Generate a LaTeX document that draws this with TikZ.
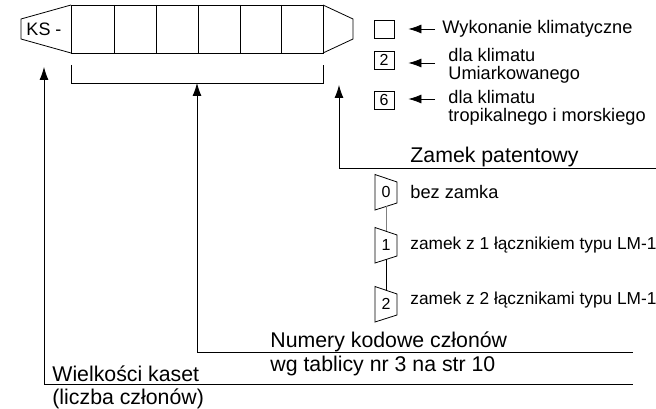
\documentclass[tikz,border=0pt]{standalone}
\usepackage{fontspec}
\setmainfont{Liberation Sans}
\usetikzlibrary{calc,arrows.meta}

\begin{document}
\begin{tikzpicture}[x=1pt,y=-1pt,line width=.8pt,
    big/.style={font=\fontsize{21.3}{21}\selectfont,inner sep=0pt,anchor=west},
    small/.style={font=\fontsize{18.2}{18.5}\selectfont,inner sep=0pt,anchor=west,align=left},
    tiny/.style={font=\fontsize{17.3}{18}\selectfont,inner sep=0pt,anchor=west},
    kod/.style={draw,minimum width=20pt,minimum height=18pt,inner sep=0pt,font=\fontsize{16}{16}\selectfont},
    strzalka/.style={-{Latex[length=13pt,width=9pt]}}]
    \useasboundingbox (0,0) rectangle (656,409);
    % kaseta
    \draw(71,5)--(21,19)--(21,39)--(71,53);
    \draw(71,5)rectangle(323,53);
    \foreach \x in {114,156,198,240,281}
      \draw(\x,5)--(\x,53);
    \draw(323,5)--(353,19)--(353,39)--(323,53);
    \node[font=\fontsize{18}{18}\selectfont,inner sep=0pt](ks)at(44,29){KS -};
    % klamra
    \coordinate(K)at(197,83);
    \draw(71,65)--(71,83)--(323,83)--(323,65);
    % wykonanie klimatyczne
    \node[kod](w0)at(384,29){};
    \node[kod](w2)at(384,60){2};
    \node[kod](w6)at(384,100){6};
    \node[small](t0)at(442,29){Wykonanie klimatyczne};
    \node[small](t2)at(448,66){dla klimatu\\Umiarkowanego};
    \node[small](t6)at(448,108){dla klimatu\\tropikalnego i morskiego};
    \coordinate(a0)at(435,29);
    \coordinate(a2)at(435,63);
    \coordinate(a6)at(435,99);
    \draw[strzalka](a0)--([xshift=14pt]w0.east);
    \draw[strzalka](a2)--([xshift=14pt]w2.east|-a2);
    \draw[strzalka](a6)--([xshift=14pt]w6.east|-a6);
    % zamek patentowy
    \coordinate(Z)at(339,85);
    \coordinate(Z0)at(339,168);
    \draw(Z0)--(656,168);
    \draw[strzalka](Z0)--(Z);
    \node[big,anchor=base west](zp)at(410,163){Zamek patentowy};
    \foreach \y/\d in {192/0,245/1,304/2}{
      \draw(375,\y-17.5)--(397,\y-10)--(397,\y+11)--(375,\y+18)--cycle;
      \node[font=\fontsize{16}{16}\selectfont,inner sep=0pt](z\d)at(386,\y){\d};
      \coordinate(g\d)at(386,\y-14);
      \coordinate(d\d)at(386,\y+14);
    }
    \draw[gray](d0)--(g1);
    \draw(d1)--(g2);
    \node[small](b0)at(410,192){bez zamka};
    \node[tiny](b1)at(410,245){zamek z 1 łącznikiem typu LM-1};
    \node[tiny](b2)at(410,300){zamek z 2 łącznikami typu LM-1};
    % numery kodowe
    \coordinate(N0)at(197,352);
    \draw(N0)--(633,352);
    \draw[strzalka](N0)--(K);
    \node[big](n1)at(270,342){Numery kodowe członów};
    \node[big](n2)at(270,366){wg tablicy nr 3 na str 10};
    % wielkosci kaset
    \coordinate(W)at(44,67);
    \coordinate(W0)at(44,384);
    \draw(W0)--(633,384);
    \draw[strzalka](W0)--(W);
    \node[big](k1)at(52,374){Wielkości kaset};
    \node[big](k2)at(52,399){(liczba członów)};
  \end{tikzpicture}
\end{document}
